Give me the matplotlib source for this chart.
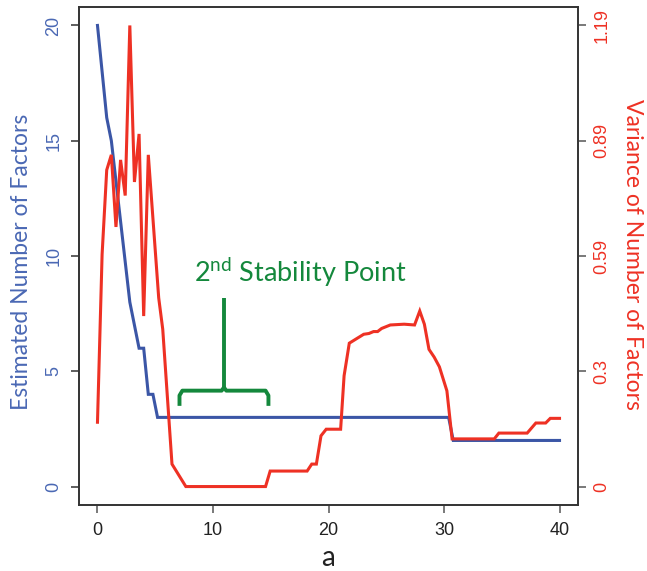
import matplotlib
matplotlib.use("Agg")
import matplotlib.pyplot as plt

plt.rcParams['mathtext.fontset'] = 'custom'
plt.rcParams['mathtext.rm'] = 'Lato'
plt.rcParams['mathtext.it'] = 'Lato:italic'
plt.rcParams['mathtext.bf'] = 'Lato:bold'

# ---- data ----
blue_a = [0, 0.8, 1.2, 2.8, 3.6, 4.0, 4.4, 4.8, 5.2, 30.4, 30.8, 40]
blue_n = [20, 16, 15, 8, 6, 6, 4, 4, 3, 3, 2, 2]

red_a = [0, 0.4, 0.8, 1.2, 1.6, 2.0, 2.4, 2.8, 3.2, 3.6, 4.0, 4.4,
         5.3, 5.65, 6.45, 7.65, 14.55, 14.95, 18.15, 18.55, 18.95, 19.35,
         19.8, 21.05, 21.35, 21.8, 22.45, 23.05, 23.5, 23.9, 24.25, 24.6,
         25.35, 26.55, 27.45, 27.9, 28.3, 28.7, 29.15, 29.6, 30.25, 30.7,
         34.35, 34.75, 37.2, 37.95, 38.8, 39.2, 40]
red_v = [0.166, 0.599, 0.817, 0.856, 0.670, 0.843, 0.751, 1.19, 0.786, 0.910, 0.44, 0.856,
         0.487, 0.406, 0.058, 0.0, 0.0, 0.040, 0.040, 0.058, 0.058, 0.131,
         0.148, 0.148, 0.286, 0.370, 0.382, 0.393, 0.395, 0.400, 0.400, 0.408,
         0.417, 0.419, 0.417, 0.453, 0.419, 0.354, 0.334, 0.309, 0.247, 0.123,
         0.123, 0.138, 0.138, 0.164, 0.164, 0.176, 0.176]

x_ticks = [0, 10, 20, 30, 40]
left_ticks = [0, 5, 10, 15, 20]
right_max = 1.19
right_ticks = [0, right_max / 4, right_max / 2, 3 * right_max / 4, right_max]
right_labels = ["0", "0.3", "0.59", "0.89", "1.19"]

BLUE = '#3b56a6'
RED = '#ee3124'
GREEN = '#14883c'
BLUE_TXT = '#4a68b4'

fig = plt.figure(figsize=(6.47, 5.71), dpi=100)
ax = fig.add_axes([79 / 647, 66 / 571, 499 / 647, 498 / 571])
ax2 = ax.twinx()

ax.plot(blue_a, blue_n, color=BLUE, lw=2.2, solid_joinstyle='miter', zorder=3)
ax2.plot(red_a, red_v, color=RED, lw=2.2, solid_joinstyle='miter', zorder=3)

ax.set_xlim(-1.6, 41.6)
ax.set_ylim(-0.8, 20.8)
ax2.set_ylim(-0.04 * right_max, 1.04 * right_max)

tick_font = dict(family='Liberation Sans', size=13)
ax.set_xticks(x_ticks)
ax.set_xticklabels([str(t) for t in x_ticks], **tick_font, color='#222222')
ax.set_yticks(left_ticks)
ax.set_yticklabels([str(t) for t in left_ticks], **tick_font, color=BLUE_TXT,
                   rotation=90, va='center')
ax2.set_yticks(right_ticks)
ax2.set_yticklabels(right_labels, **tick_font, color=RED, rotation=90, va='center')

for a in (ax, ax2):
    for s in a.spines.values():
        s.set_color('#333333')
        s.set_linewidth(1.2)
ax.tick_params(axis='x', direction='out', length=6, width=1.1, color='#555555', pad=6)
ax.tick_params(axis='y', direction='out', length=6, width=1.1, color='#333333', pad=6)
ax2.tick_params(axis='y', direction='out', length=6, width=1.1, color='#555555', pad=5)

# annotation brace (in left-axis data coords)
ax.plot([7.1, 7.1, 7.35, 10.75, 10.95, 11.15, 14.55, 14.8, 14.8],
        [3.5, 3.95, 4.16, 4.16, 4.3, 4.16, 4.16, 3.95, 3.5],
        color=GREEN, lw=2.8, solid_joinstyle='round', solid_capstyle='butt', zorder=4)
ax.plot([10.95, 10.95], [4.3, 8.2], color=GREEN, lw=2.8, solid_capstyle='butt', zorder=4)
ax.text(17.6, 9.3, r'2$^{\mathrm{nd}}$ Stability Point', color=GREEN,
        fontsize=19.5, family='Lato', ha='center', va='center', zorder=5)

fig.text(22 / 647, 1 - 262 / 571, 'Estimated Number of Factors', color=BLUE_TXT,
         family='Lato', fontsize=16.5, rotation=90, ha='center', va='center')
fig.text(633 / 647, 1 - 254 / 571, 'Variance of Number of Factors', color=RED,
         family='Lato', fontsize=16.5, rotation=270, ha='center', va='center')
fig.text(328 / 647, 1 - 558 / 571, 'a', color='#222222', family='Lato',
         fontsize=20, ha='center', va='center')

fig.savefig('out.png', dpi=100)
